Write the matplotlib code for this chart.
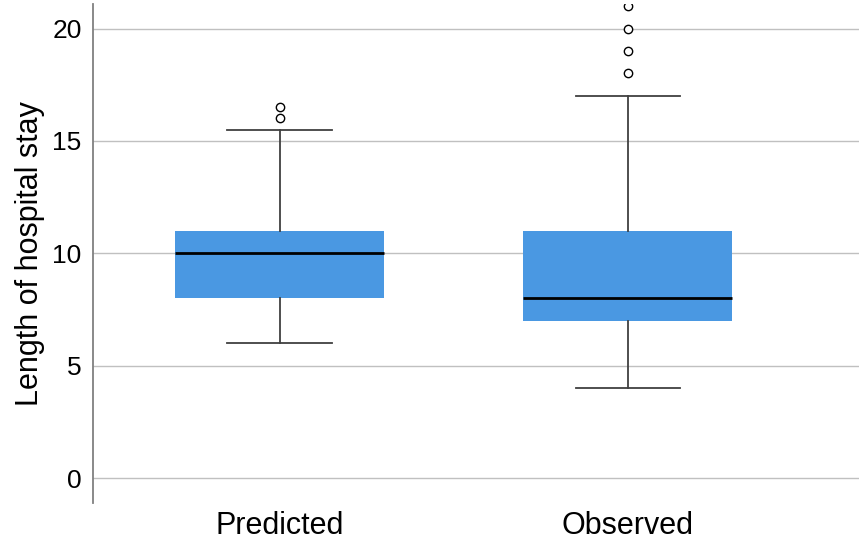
import matplotlib.pyplot as plt

plt.rcParams['font.family'] = ['Liberation Sans', 'DejaVu Sans']

# Box statistics
groups = ['Predicted', 'Observed']
q1 = [8, 7]
medians = [10, 8]
q3 = [11, 11]
whisker_low = [6, 4]
whisker_high = [15.5, 17]
outliers = [[16, 16.5], [18, 19, 20, 21]]

stats = []
for i, name in enumerate(groups):
    stats.append({
        'label': name,
        'q1': q1[i], 'med': medians[i], 'q3': q3[i],
        'whislo': whisker_low[i], 'whishi': whisker_high[i],
        'fliers': outliers[i],
    })

fig = plt.figure(figsize=(8.59, 5.42), dpi=100)
ax = fig.add_axes([0.108, 0.072, 0.892, 0.921])

ax.bxp(stats, positions=[1, 2], widths=0.6, patch_artist=True,
       boxprops=dict(facecolor='#4a98e2', edgecolor='#4a98e2', linewidth=0),
       medianprops=dict(color='black', linewidth=2),
       whiskerprops=dict(color='#404040', linewidth=1.3),
       capprops=dict(color='#404040', linewidth=1.3),
       capwidths=0.3,
       flierprops=dict(marker='o', markersize=6, markerfacecolor='white',
                       markeredgecolor='black', markeredgewidth=1))

ax.set_xlim(0.463, 2.664)
ax.set_ylim(-1.11, 21.1)
ax.set_yticks([0, 5, 10, 15, 20])
ax.yaxis.grid(True, color='#c0c0c0', linewidth=1)
ax.set_axisbelow(True)
ax.tick_params(axis='y', length=0, labelsize=19, pad=8)
ax.tick_params(axis='x', length=0, labelsize=22, pad=6)
ax.set_ylabel('Length of hospital stay', fontsize=22, labelpad=5)

for s in ['top', 'right', 'bottom']:
    ax.spines[s].set_visible(False)
ax.spines['left'].set_color('#808080')
ax.spines['left'].set_linewidth(1.3)

fig.savefig('out.png', dpi=100)
